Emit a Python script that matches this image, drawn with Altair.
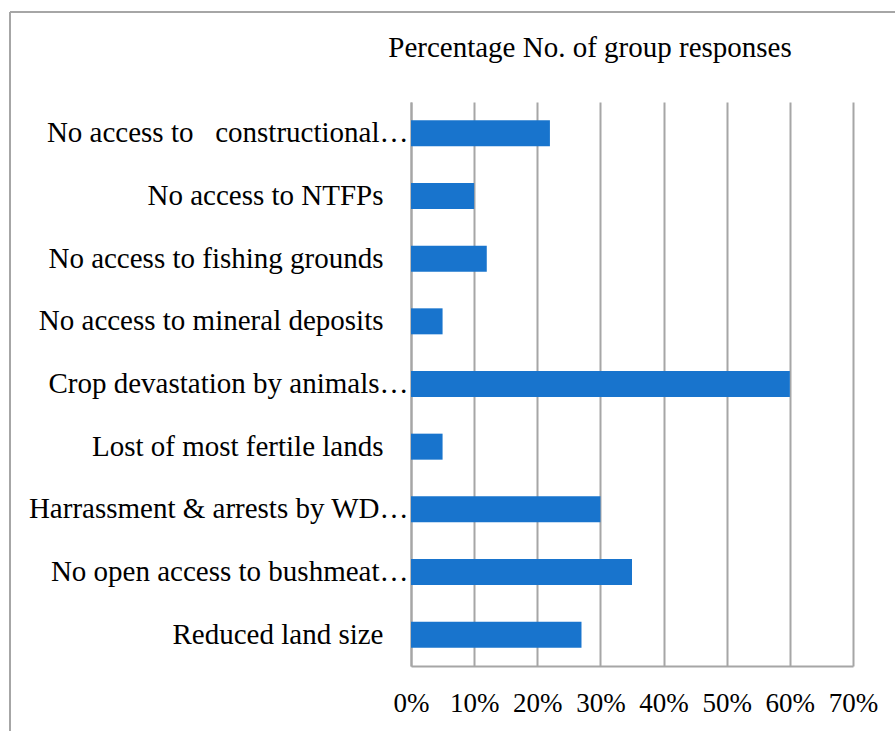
import altair as alt
import pandas as pd

categories = [
    "No access to\u00a0\u00a0 constructional…",
    "No access to NTFPs",
    "No access to fishing grounds",
    "No access to mineral deposits",
    "Crop devastation by animals…",
    "Lost of most fertile lands",
    "Harrassment & arrests by WD…",
    "No open access to bushmeat…",
    "Reduced land size",
]
values = [0.22, 0.10, 0.12, 0.05, 0.60, 0.05, 0.30, 0.35, 0.27]
ticks = [0, 0.1, 0.2, 0.3, 0.4, 0.5, 0.6, 0.7]
title_text = ["Percentage No. of group responses"]

df = pd.DataFrame({"cat": categories, "val": values})
FONT = "Liberation Serif"
GRID = "#a6a6a6"

bars = alt.Chart(df).mark_bar(color="#1874cd", size=26).encode(
    x=alt.X("val:Q",
            scale=alt.Scale(domain=[0, 0.7], nice=False),
            axis=alt.Axis(values=ticks, format=".0%", title=None, grid=True,
                          gridColor=GRID, gridWidth=2, domainColor=GRID, domainWidth=2,
                          ticks=False, labelPadding=24, labelFontSize=27, labelFont=FONT,
                          labelColor="#000000", labelOverlap=False, labelFlush=False)),
    y=alt.Y("cat:N", sort=None,
            scale=alt.Scale(paddingInner=0, paddingOuter=0),
            axis=alt.Axis(title=None, ticks=False, domainColor=GRID, domainWidth=2,
                          labelPadding={"condition": {"test": "indexof(datum.label, '…') >= 0", "value": 3}, "value": 28},
                          labelFontSize=29, labelFont=FONT, labelLimit=0,
                          labelColor="#000000")),
)

title = alt.Chart(pd.DataFrame({"t": title_text})).mark_text(
    font=FONT, fontSize=29, color="#000000", align="center", baseline="alphabetic"
).encode(text="t:N", x=alt.value(179), y=alt.value(-45))

border_left = alt.Chart(df).mark_rule(color=GRID, strokeWidth=1.5).encode(
    x=alt.value(-401), y=alt.value(-90), y2=alt.value(640))
border_top = alt.Chart(df).mark_rule(color=GRID, strokeWidth=1.5).encode(
    x=alt.value(-401), x2=alt.value(490), y=alt.value(-90))

chart = alt.layer(bars, title, border_left, border_top).properties(
    width=442, height=564,
    padding={"left": 411, "top": 102, "right": 42, "bottom": 65},
    autosize=alt.AutoSizeParams(type="none"),
).configure_view(stroke=None)

chart.save("out.html", embed_options={"renderer": "svg", "actions": False})
